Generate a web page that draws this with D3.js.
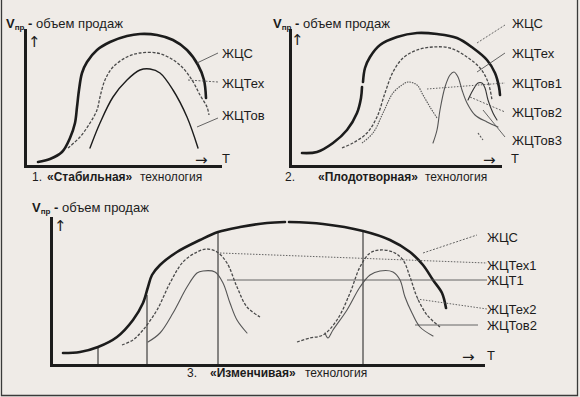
<!DOCTYPE html>
<html>
<head>
<meta charset="utf-8">
<script src="https://cdn.jsdelivr.net/npm/d3@7"></script>
<style>
body { margin: 0; background: #efebe7; }
svg { display: block; font-family: "Liberation Sans", Arial, sans-serif; }
</style>
</head>
<body>
<script>
// Data (chart units: time from origin, volume from origin)

// Panel 1 - "Стабильная" технология
var p1Zhcs = [[13,4],[25,7],[37,14],[45,28],[50,43],[52,59],[54,76],[57,93],[62,104],[72,116],[85,124],
    [102,130],[115,132],[132,131],[148,126],[162,116],[173,101],[179,86],[181,68]];
var p1Tech = [[43,18],[55,29],[65,43],[72,56],[75,69],[80,86],[88,99],[102,109],[115,113],[132,113],
    [145,108],[157,99],[167,86],[175,71],[182,59],[184,51]];
var p1Tov = [[65,18],[75,43],[88,69],[102,86],[115,96],[125,97],[135,93],[148,76],[162,49],[173,18]];
var p1Labels = ['ЖЦС', 'ЖЦТех', 'ЖЦТов'];
var p1LabelAt = [113, 83, 51];
var p1Leaders = [[[172,103],[193,113]], [[163,86],[193,84]], [[172,39],[193,48]]];

// Panel 2 - "Плодотворная" технология
var p2ZhcsA = [[12,13],[27,14],[43,23],[57,36],[67,53],[71,68],[72,79]];
var p2ZhcsB = [[73,84],[75,98],[80,109],[90,121],[107,129],[127,133],[147,132],[167,128],[183,118],
    [197,106],[205,93],[209,79],[210,71]];
var p2Tech = [[52,18],[63,23],[77,33],[87,49],[95,73],[103,94],[113,108],[127,116],[143,119],[160,118],
    [177,109],[190,98],[198,84],[202,66]];
var p2Tov1 = [[72,23],[83,33],[93,53],[103,73],[112,81],[118,84],[127,81],[133,71],[140,59],[147,48]];
var p2Tov2 = [[143,23],[147,36],[150,56],[155,79],[160,91],[164,94],[168,89],[172,76],[177,63],[185,51],
    [197,44],[208,39]];
var p2Tov3 = [[178,66],[183,76],[188,83],[192,83],[195,78],[198,66],[203,53],[207,46]];
var p2Tov3Tail = [[188,33],[193,26]];
var p2Labels = ['ЖЦС', 'ЖЦТех', 'ЖЦТов1', 'ЖЦТов2', 'ЖЦТов3'];
var p2LabelAt = [143, 113, 83, 54, 26];
var p2Leaders = [[[187,123],[215,141]], [[187,94],[215,113]], [[137,77],[215,83]],
    [[180,69],[215,54]], [[193,56],[215,29]]];

// Panel 3 - "Изменчивая" технология
var p3ZhcsA = [[12,12],[29,13],[47,18],[66,28],[82,45],[92,62],[97,78],[101,90],[109,100],[126,113],
    [149,125],[167,133],[189,138],[216,142],[234,143]];
var p3ZhcsB = [[238,143],[272,141],[312,134],[339,125],[359,113],[372,100],[382,85],[391,72],[395,57]];
var p3Tech1 = [[71,20],[82,25],[92,35],[106,55],[119,82],[132,103],[146,113],[156,116],[166,113],
    [176,102],[186,78],[196,58],[209,48]];
var p3T1 = [[97,23],[109,32],[122,52],[136,78],[146,92],[152,94],[164,93],[172,82],[179,62],[186,45],[196,32]];
var p3Tech2 = [[246,23],[259,27],[272,30],[286,45],[299,72],[309,98],[319,112],[329,115],[342,113],
    [352,105],[359,88],[366,68],[376,50],[389,38]];
var p3Tov2 = [[274,32],[277,27],[282,35],[296,55],[309,78],[319,90],[329,94],[342,93],[349,85],
    [354,68],[361,52],[369,38],[382,29]];
var p3Stages = [[47,18],[96,70],[167,133],[312,134]];
var p3Labels = ['ЖЦС', 'ЖЦТех1', 'ЖЦТ1', 'ЖЦТех2', 'ЖЦТов2'];
var p3LabelAt = [128, 100, 85, 56, 40];
var p3Leaders = [[[372,112],[426,130]], [[169,112],[436,102]], [[176,85],[436,85]],
    [[366,66],[436,56]], [[364,40],[427,40]]];

var captions = [
    ['1.', '«Стабильная»', 'технология'],
    ['2.', '«Плодотворная»', 'технология'],
    ['3.', '«Изменчивая»', 'технология']
];

// Layout
var width = 580, height = 397;
var ink = '#1c1c1c';
var grey = '#4a4a4a';
var techDash = '3,1.6';

var svg = d3.select('body').append('svg')
    .attr('width', width)
    .attr('height', height);

// scanned page frame
svg.append('path')
    .attr('d', 'M1.5,0V395.5H577.5V0')
    .attr('fill', 'none')
    .attr('stroke', '#3a3a3a')
    .attr('stroke-width', 1.3);

function makePanel(ox, oy, w, h) {
    return {
        x: d3.scaleLinear().domain([0, w]).range([ox, ox + w]),
        y: d3.scaleLinear().domain([0, h]).range([oy, oy - h]),
        g: svg.append('g')
    };
}

var p1 = makePanel(25, 166, 195, 136);
var p2 = makePanel(290, 166, 210, 136);
var p3 = makePanel(51, 365, 432, 147);

function drawAxes(p) {
    p.g.append('g')
        .attr('transform', 'translate(0,' + p.y(0) + ')')
        .call(d3.axisBottom(p.x).ticks(0).tickSizeOuter(0));
    p.g.append('g')
        .attr('transform', 'translate(' + p.x(0) + ',0)')
        .call(d3.axisLeft(p.y).ticks(0).tickSizeOuter(0));
    p.g.selectAll('.domain')
        .attr('stroke', ink)
        .attr('stroke-width', 3)
        .attr('stroke-linecap', 'square');
}

function curve(p, pts, color, widthPx, dash) {
    var line = d3.line()
        .x(function(d) { return p.x(d[0]); })
        .y(function(d) { return p.y(d[1]); })
        .curve(d3.curveCatmullRom.alpha(0.5));
    p.g.append('path')
        .datum(pts)
        .attr('d', line)
        .attr('fill', 'none')
        .attr('stroke', color)
        .attr('stroke-width', widthPx)
        .attr('stroke-dasharray', dash || null)
        .attr('stroke-linecap', dash ? 'butt' : 'round');
}

function leader(p, seg, dash) {
    p.g.append('line')
        .attr('x1', p.x(seg[0][0])).attr('y1', p.y(seg[0][1]))
        .attr('x2', p.x(seg[1][0])).attr('y2', p.y(seg[1][1]))
        .attr('stroke', '#555')
        .attr('stroke-width', 0.9)
        .attr('stroke-dasharray', dash || null);
}

function labels(p, names, at, t) {
    p.g.selectAll('text.lbl')
        .data(names)
        .enter()
        .append('text')
        .attr('class', 'lbl')
        .attr('x', p.x(t))
        .attr('y', function(d, i) { return p.y(at[i]); })
        .attr('dy', '0.36em')
        .attr('font-size', 13)
        .attr('fill', ink)
        .text(function(d) { return d; });
}

function title(x, y) {
    var t = svg.append('text')
        .attr('x', x).attr('y', y)
        .attr('fill', ink)
        .attr('font-size', 13);
    t.append('tspan').attr('font-weight', 'bold').text('V');
    t.append('tspan').attr('font-weight', 'bold').attr('font-size', 8).attr('dy', 2).text('пр');
    t.append('tspan').attr('font-weight', 'bold').attr('dy', -2).text(' - ');
    t.append('tspan').text('объем продаж');
}

function arrows(p, upT, upV, rightT, rightV, tT) {
    p.g.append('text')
        .attr('x', p.x(upT)).attr('y', p.y(upV))
        .attr('dy', '0.36em')
        .attr('font-family', '"DejaVu Sans", sans-serif')
        .attr('font-size', 15).attr('fill', ink)
        .text('↑');
    p.g.append('text')
        .attr('x', p.x(rightT)).attr('y', p.y(rightV))
        .attr('dy', '0.36em')
        .attr('font-family', '"DejaVu Sans", sans-serif')
        .attr('font-size', 15).attr('fill', ink)
        .text('→');
    p.g.append('text')
        .attr('x', p.x(tT)).attr('y', p.y(rightV + 2))
        .attr('dy', '0.36em')
        .attr('font-size', 13).attr('fill', ink)
        .text('T');
}

function caption(words, xs, y) {
    var t = svg.append('text')
        .attr('y', y)
        .attr('font-size', 12)
        .attr('fill', ink);
    words.forEach(function(w, i) {
        t.append('tspan')
            .attr('x', xs[i])
            .attr('font-weight', i === 1 ? 'bold' : null)
            .text(w);
    });
}

// Panel 1
drawAxes(p1);
curve(p1, p1Zhcs, ink, 2.6);
curve(p1, p1Tech, grey, 1.3, techDash);
curve(p1, p1Tov, ink, 1.4);
leader(p1, p1Leaders[0]);
leader(p1, p1Leaders[1], '2,1.5');
leader(p1, p1Leaders[2]);
labels(p1, p1Labels, p1LabelAt, 197);
title(6, 28);
arrows(p1, 3, 124, 170, 6, 197);
caption(captions[0], [32, 47, 140], 181);

// Panel 2
drawAxes(p2);
curve(p2, p2ZhcsA, ink, 2.6);
curve(p2, p2ZhcsB, ink, 2.6);
curve(p2, p2Tech, grey, 1.3, techDash);
curve(p2, p2Tov1, '#555', 1.1, '1.5,1');
curve(p2, p2Tov2, '#555', 1.1);
curve(p2, p2Tov3, '#333', 1.1);
curve(p2, p2Tov3Tail, '#555', 1.1, '2,1.5');
leader(p2, p2Leaders[0], '2,1.5');
leader(p2, p2Leaders[1]);
leader(p2, p2Leaders[2], '1.5,1.5');
leader(p2, p2Leaders[3], '2,1.5');
leader(p2, p2Leaders[4]);
labels(p2, p2Labels, p2LabelAt, 222);
title(273, 28);
arrows(p2, 1, 126, 193, 6, 221);
caption(captions[1], [285, 318, 425], 181);

// Panel 3
drawAxes(p3);
p3.g.selectAll('line.stage')
    .data(p3Stages)
    .enter()
    .append('line')
    .attr('class', 'stage')
    .attr('x1', function(d) { return p3.x(d[0]); })
    .attr('x2', function(d) { return p3.x(d[0]); })
    .attr('y1', p3.y(0))
    .attr('y2', function(d) { return p3.y(d[1]); })
    .attr('stroke', ink)
    .attr('stroke-width', 1);
curve(p3, p3ZhcsA, ink, 2.6);
curve(p3, p3ZhcsB, ink, 2.6);
curve(p3, p3Tech1, grey, 1.3, techDash);
curve(p3, p3T1, '#555', 1.1);
curve(p3, p3Tech2, grey, 1.3, techDash);
curve(p3, p3Tov2, '#555', 1.1);
leader(p3, p3Leaders[0], '2,1.5');
leader(p3, p3Leaders[1], '1.5,1.5');
leader(p3, p3Leaders[2]);
leader(p3, p3Leaders[3], '1.5,1.5');
leader(p3, p3Leaders[4]);
labels(p3, p3Labels, p3LabelAt, 436);
title(32, 212);
arrows(p3, 3, 139, 411, 8, 436);
caption(captions[2], [187, 210, 305], 377);
</script>
</body>
</html>
